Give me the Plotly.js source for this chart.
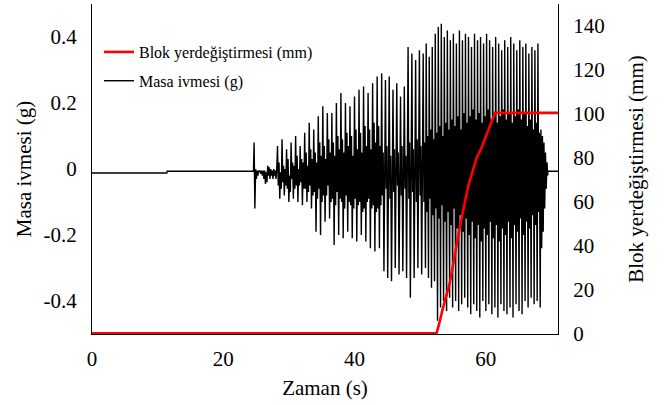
<!DOCTYPE html>
<html>
<head>
<meta charset="utf-8">
<script src="https://cdn.plot.ly/plotly-3.0.1.min.js"></script>
<style>html,body{margin:0;padding:0;background:#fff;}#chart{width:670px;height:405px;}</style>
</head>
<body>
<div id="chart"></div>
<script>
// ---- Block displacement (mm), right axis ----
const dispTime = [0, 52.5, 53.0, 53.4, 54.5, 56.0, 57.3, 58.6, 59.4, 60.6, 61.4, 71];
const dispMm   = [0.3, 0.3, 6, 11, 23, 48, 67, 80, 85, 94, 100.5, 100.5];

// ---- Table acceleration (g), left axis ----
// quiet part before shaking
const accPreTime = [0, 11.4, 11.45, 24.6];
const accPre     = [-0.012, -0.012, -0.007, -0.007];
// sampled record during shaking: starts at accStart, one value every accStep seconds
const accStart = 24.7;
const accStep  = 0.115;
const accNoise = [0.08, -0.12, 0.0, -0.03, -0.005, -0.02, -0.005, -0.01, -0.005, -0.015,
  -0.005, -0.02, -0.005, -0.03, -0.005, -0.045, -0.01, -0.04, 0.01, -0.02,
  0.005, -0.03, 0.0, -0.02, -0.005, -0.03, 0.0, -0.02, -0.005, -0.03, 0.0];
const accEarly = [
  0.07,-0.05,0.02,-0.09,-0.01,-0.06,  0.09,-0.04,0.01,-0.08,0.00,-0.05,
  0.06,-0.06,0.03,-0.10,-0.02,-0.07,  0.08,-0.03,0.02,-0.09,0.01,-0.06,
  0.10,-0.05,0.04,-0.10,0.00,-0.05,   0.07,-0.04,0.03,-0.11,0.02,-0.06,
  0.11,-0.06,0.05,-0.10,0.01,-0.07,   0.14,-0.05,0.06,-0.12,0.03,-0.08,
  0.12,-0.07,0.05,-0.19,0.02,-0.09,   0.16,-0.06,0.08,-0.20,0.04,-0.10,
  0.19,-0.08,0.07,-0.16,0.03,-0.08,   0.17,-0.05,0.09,-0.15,0.05,-0.10,
  0.17,-0.09,0.08,-0.23,0.04,-0.11,   0.20,-0.07,0.10,-0.20,0.06,-0.09,
  0.23,-0.10,0.09,-0.21,0.05,-0.12,   0.20,-0.08,0.11,-0.19,0.07,-0.10,
  0.19,-0.11,0.10,-0.21,0.04,-0.12,   0.22,-0.09,0.12,-0.22,0.06,-0.11,
  0.24,-0.10,0.11,-0.20,0.05,-0.13,   0.25,-0.12,0.13,-0.22,0.07,-0.10,
  0.23,-0.09,0.12,-0.24,0.06,-0.12,   0.26,-0.11,0.14,-0.25,0.08,-0.13,
  0.28,-0.12,0.13,-0.24,0.07,-0.11];
const accMid = [
  0.29,-0.08,0.05,-0.31,-0.04,  0.27,-0.06,0.07,-0.33,-0.02,  0.28,-0.09,0.04,-0.34,-0.05,
  0.24,-0.07,0.06,-0.30,-0.03,  0.26,-0.05,0.05,-0.32,-0.04,  0.22,-0.08,0.07,-0.31,-0.02,
  0.25,-0.06,0.04,-0.33,-0.03,  0.37,-0.09,0.08,-0.39,-0.05,  0.35,-0.07,0.06,-0.33,-0.03,
  0.33,-0.10,0.09,-0.30,-0.04,  0.36,-0.08,0.07,-0.32,-0.03];
const accLate = [
  0.35,-0.10,0.08,-0.30,  0.38,-0.13,0.10,-0.33,  0.34,-0.09,0.12,-0.36,  0.37,-0.14,0.09,-0.34,
  0.41,-0.12,0.11,-0.46,  0.43,-0.15,0.13,-0.42,  0.44,-0.11,0.10,-0.40,  0.40,-0.16,0.14,-0.43,
  0.42,-0.13,0.12,-0.39,  0.39,-0.17,0.15,-0.42,  0.41,-0.12,0.13,-0.40,  0.38,-0.18,0.16,-0.43,
  0.42,-0.14,0.12,-0.41,  0.39,-0.19,0.17,-0.39,  0.41,-0.15,0.14,-0.42,  0.40,-0.20,0.16,-0.44,
  0.37,-0.16,0.18,-0.41,  0.41,-0.21,0.15,-0.43,  0.39,-0.17,0.17,-0.45,  0.40,-0.22,0.14,-0.40,
  0.38,-0.18,0.16,-0.43,  0.41,-0.20,0.18,-0.41,  0.39,-0.16,0.15,-0.44,  0.37,-0.21,0.17,-0.42,
  0.40,-0.17,0.14,-0.45,  0.38,-0.22,0.16,-0.41,  0.36,-0.18,0.18,-0.43,  0.39,-0.20,0.15,-0.44,
  0.37,-0.16,0.17,-0.42,  0.40,-0.21,0.14,-0.45,  0.38,-0.17,0.16,-0.41,  0.36,-0.19,0.18,-0.43,
  0.39,-0.15,0.15,-0.44,  0.37,-0.20,0.17,-0.40,  0.38,-0.16,0.13,-0.42,  0.35,-0.18,0.15,-0.39,
  0.37,-0.14,0.12,-0.41,  0.36,-0.17,0.14,-0.40,  0.38,-0.13,0.11,-0.42];
const accTail = [0.12, -0.24, 0.10, -0.19, 0.08, -0.12, 0.05, -0.06, 0.02, -0.02];
// quiet part after shaking
const accPostTime = [69.45, 71];
const accPost     = [-0.007, -0.007];

// ---- axis ticks ----
const xTicks = [0, 20, 40, 60];
const yTickVals = [-0.4, -0.2, 0, 0.2, 0.4];
const yTickText = ['-0.4', '-0.2', '0', '0.2', '0.4'];
const y2Ticks = [0, 20, 40, 60, 80, 100, 120, 140];

// ---- assemble the acceleration trace ----
const accShake = accNoise.concat(accEarly, accMid, accLate, accTail);
const accShakeTime = accShake.map((_, i) => accStart + i * accStep);
const accTime = accPreTime.concat(accShakeTime, accPostTime);
const accVal = accPre.concat(accShake, accPost);

const FONT = 'Liberation Serif';

const data = [
  {x: dispTime, y: dispMm, yaxis: 'y2', type: 'scatter', mode: 'lines',
   name: 'Blok yerdeğiştirmesi (mm)', legendgroup: 'a',
   line: {color: '#ff0000', width: 2.6}},
  {x: accTime, y: accVal, type: 'scatter', mode: 'lines',
   name: 'Masa ivmesi (g)', legendgroup: 'b',
   line: {color: '#000000', width: 1.4}}
];

const layout = {
  width: 670, height: 405,
  margin: {l: 92, r: 112, t: 4, b: 71, pad: 0},
  paper_bgcolor: '#fff', plot_bgcolor: '#fff',
  font: {family: FONT, size: 21, color: '#000'},
  showlegend: true,
  legend: {x: 0.015, y: 0.906, xanchor: 'left', yanchor: 'top',
           bgcolor: 'rgba(0,0,0,0)', font: {family: FONT, size: 16, color: '#000'},
           traceorder: 'grouped', tracegroupgap: 5},
  xaxis: {range: [0, 71], tickvals: xTicks, ticktext: xTicks.map(String),
          showline: true, linecolor: '#000', linewidth: 1, showgrid: false, zeroline: false,
          ticks: '', ticklabelstandoff: 6,
          title: {text: 'Zaman (s)', font: {family: FONT, size: 21}, standoff: 10}},
  yaxis: {range: [-0.5, 0.5], tickvals: yTickVals, ticktext: yTickText,
          showline: true, linecolor: '#000', linewidth: 1, showgrid: false, zeroline: false,
          ticks: '', ticklabelstandoff: 10,
          title: {text: 'Masa ivmesi (g)', font: {family: FONT, size: 21}, standoff: 6}},
  yaxis2: {range: [0, 150], tickvals: y2Ticks, ticktext: y2Ticks.map(String),
           overlaying: 'y', side: 'right',
           showline: true, linecolor: '#000', linewidth: 1, showgrid: false, zeroline: false,
           ticks: '', ticklabelstandoff: 10,
           title: {text: 'Blok yerdeğiştirmesi (mm)', font: {family: FONT, size: 21}, standoff: 24}}
};

Plotly.newPlot('chart', data, layout, {displayModeBar: false, staticPlot: true});
</script>
</body>
</html>
